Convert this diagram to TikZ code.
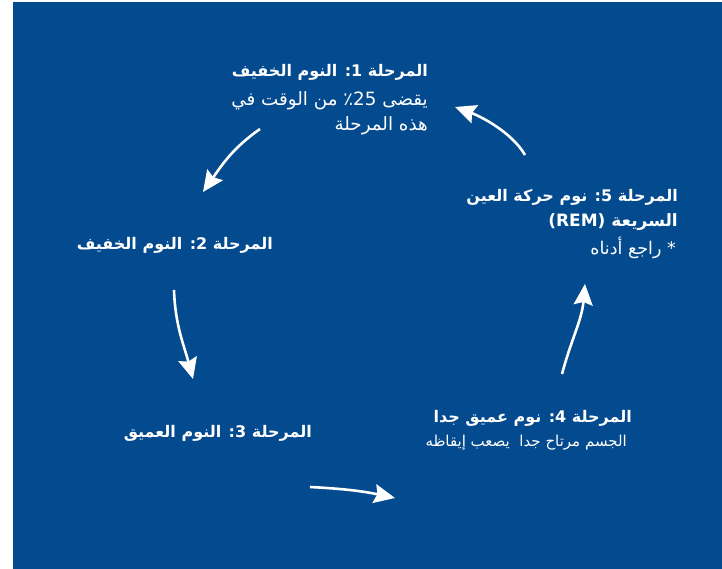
\documentclass[tikz,border=0pt]{standalone}
\usepackage{fontspec}
\TeXXeTstate=1
\newfontfamily\arabicfont[Script=Arabic]{DejaVu Sans}
\usetikzlibrary{arrows.meta}
\definecolor{bgblue}{RGB}{4,74,142}
\tikzset{
  stagetitle/.style={text=white,font=\arabicfont\bfseries\fontsize{16}{20}\selectfont,inner sep=0pt,anchor=east,align=right},
  stagetext/.style={text=white,font=\arabicfont\fontsize{17.5}{22}\selectfont,inner sep=0pt,anchor=east,align=right},
  bigtext/.style={stagetext,font=\arabicfont\fontsize{18.3}{22}\selectfont},
  smalltext/.style={stagetext,font=\arabicfont\fontsize{15}{19}\selectfont},
  cyclearrow/.style={white,line width=2.6pt,-{Stealth[length=21pt,width=19pt,inset=3pt]}}
}
\begin{document}
\begin{tikzpicture}[x=1pt,y=-1pt]
\useasboundingbox (0,0) rectangle (722,569);
\fill[bgblue] (13,2) rectangle (722,569);
% stage 1
\node[stagetitle] (s1t) at (428,72) {\beginR المرحلة 1: النوم الخفيف\endR};
\node[bigtext] (s1a) at (428,101) {\beginR يقضى \beginL25\endL٪ من الوقت في\endR};
\node[bigtext] (s1b) at (428,126) {\beginR هذه المرحلة\endR};
% stage 2
\node[stagetitle] (s2) at (273,245) {\beginR المرحلة 2: النوم الخفيف\endR};
% stage 3
\node[stagetitle] (s3) at (312,433) {\beginR المرحلة 3: النوم العميق\endR};
% stage 4
\node[stagetitle] (s4t) at (632,418) {\beginR المرحلة 4: نوم عميق جدا\endR};
\node[smalltext] (s4a) at (627,443) {\beginR الجسم مرتاح جدا\ \ يصعب إيقاظه\endR};
% stage 5
\node[stagetitle] (s5t) at (678,197) {\beginR المرحلة 5: نوم حركة العين\endR};
\node[stagetitle,font=\arabicfont\bfseries\fontsize{17}{20}\selectfont] (s5b) at (678,222) {\beginR السريعة (REM)\endR};
\node[stagetext] (s5c) at (676,248) {\beginR * راجع أدناه\endR};
% arrow end points
\coordinate (a1s) at (260,129); \coordinate (a1e) at (203,192);
\coordinate (a2s) at (174,290); \coordinate (a2e) at (193,379);
\coordinate (a3s) at (310,487); \coordinate (a3e) at (395,498);
\coordinate (a4s) at (562,374); \coordinate (a4e) at (585,284);
\coordinate (a5s) at (525,155); \coordinate (a5e) at (455,107);
\draw[cyclearrow] (a1s) to[out=215,in=55] (a1e);
\draw[cyclearrow] (a2s) to[out=-88,in=105] (a2e);
\draw[cyclearrow] (a3s) to[out=-3,in=168] (a3e);
\draw[cyclearrow] (a4s) to[out=75,in=-95] (a4e);
\draw[cyclearrow] (a5s) to[out=120,in=-20,looseness=0.8] (a5e);
\end{tikzpicture}
\end{document}
